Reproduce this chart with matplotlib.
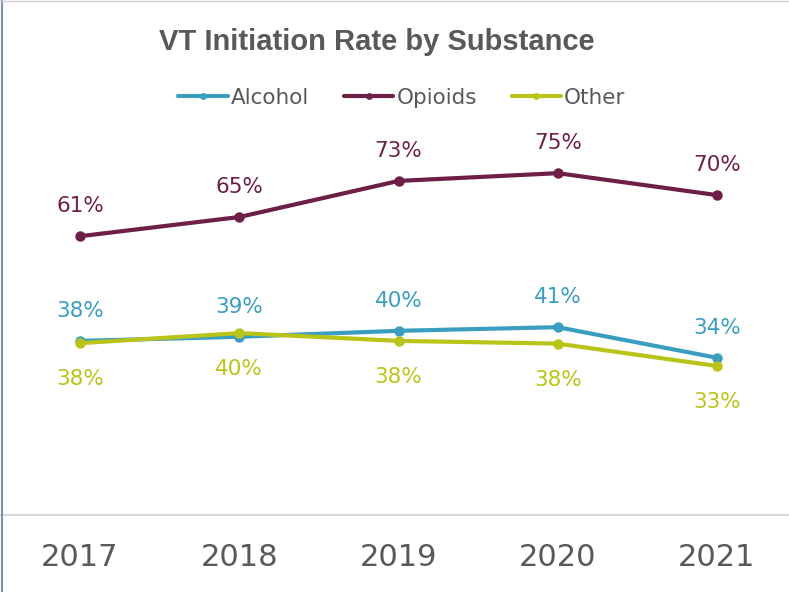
import matplotlib
matplotlib.use('Agg')
import matplotlib.pyplot as plt
from matplotlib.lines import Line2D

plt.rcParams['font.family'] = 'DejaVu Sans'

years = ['2017', '2018', '2019', '2020', '2021']
alcohol = [38.1, 39.0, 40.3, 41.1, 34.4]
opioids = [61.0, 65.2, 73.1, 74.8, 70.0]
other = [37.6, 39.8, 38.1, 37.5, 32.6]

c_alc = '#3A9EC0'
c_opi = '#6E1F47'
c_oth = '#BAC418'
gray = '#595959'

fig = plt.figure(figsize=(7.89, 5.92), dpi=100)
# axes: 0% at y=515px, x-categories at 80..717 px
ax = fig.add_axes([0, 1 - 515 / 592, 1, (515 - 115) / 592])
x = list(range(len(years)))
step = (717 - 80) / 4
ax.set_xlim(-80 / step, 4 + 72 / step)
ax.set_ylim(0, (515 - 115) / 4.57)

series = [('Alcohol', alcohol, c_alc, 30),
          ('Opioids', opioids, c_opi, 30),
          ('Other', other, c_oth, -36)]
for name, vals, col, off in series:
    ax.plot(x, vals, color=col, lw=3, marker='o', ms=6.5, label=name,
            solid_capstyle='round')
    for xi, v in zip(x, vals):
        ax.annotate(f'{round(v)}%', (xi, v), xytext=(0, off), textcoords='offset pixels',
                    ha='center', va='center', color=col, fontsize=15.5)

ax.set_xticks(x)
ax.set_xticklabels(years, fontsize=22, color=gray)
ax.tick_params(axis='x', length=0, pad=20)
ax.set_yticks([])
for s in ['top', 'right', 'left']:
    ax.spines[s].set_visible(False)
ax.spines['bottom'].set_color('#D9D9D9')
ax.spines['bottom'].set_linewidth(1.5)

fig.text(377 / 789, 1 - 42 / 592, 'VT Initiation Rate by Substance',
         ha='center', va='center', fontsize=21, fontweight='bold', color=gray,
         family='Liberation Sans')

fig.legend(loc='center', bbox_to_anchor=(402 / 789, 1 - 98 / 592), ncol=3,
           frameon=False, fontsize=15.5, labelcolor=gray, handlelength=2.3,
           handletextpad=0.15, columnspacing=1.6, markerscale=0.6)

# border lines of the original frame
fig.add_artist(Line2D([1.5 / 789, 1.5 / 789], [0, 1], color='#8090A4', lw=1.5))
fig.add_artist(Line2D([0, 1], [1 - 0.5 / 592, 1 - 0.5 / 592], color='#D0D0D0', lw=1))

fig.savefig('out.png', dpi=100)
